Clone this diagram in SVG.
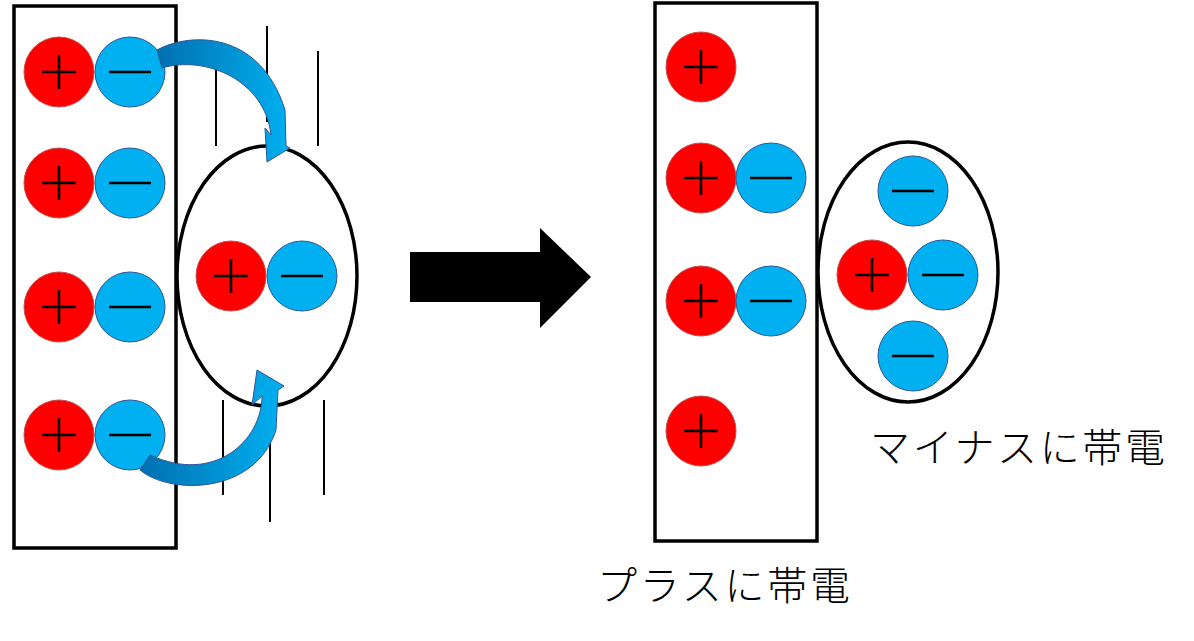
<svg xmlns="http://www.w3.org/2000/svg" width="1194" height="641" viewBox="0 0 1194 641">
<defs>
<style>
.p{fill:#ff0000;stroke:#c0504d;stroke-width:1}
.m{fill:#00b0f0;stroke:#2f5597;stroke-width:1}
.s{stroke:#000;stroke-width:2.5;fill:none}
.box{fill:none;stroke:#000;stroke-width:3.5}
.ln{stroke:#000;stroke-width:2}
.t{font-family:"Noto Sans CJK JP","Noto Sans",sans-serif;font-size:40px;font-weight:300;fill:#000}
</style>
<g id="pc"><circle class="p" r="35"/><path class="s" d="M-17 0H17M0-17V17"/></g>
<g id="mc"><circle class="m" r="35"/><path class="s" d="M-21 0H21"/></g>
<linearGradient id="ag" x1="0" y1="0" x2="1" y2="0"><stop offset="0" stop-color="#0070b0"/><stop offset="0.5" stop-color="#0090d0"/><stop offset="1" stop-color="#00b0f0"/></linearGradient>
</defs>
<g id="left-box">
<rect class="box" x="14" y="6" width="162" height="542"/>
<use href="#pc" x="59" y="72"/><use href="#mc" x="130" y="72"/>
<use href="#pc" x="59" y="183"/><use href="#mc" x="130" y="183"/>
<use href="#pc" x="59" y="307"/><use href="#mc" x="130" y="307"/>
<use href="#pc" x="59" y="435"/><use href="#mc" x="130" y="435"/>
</g>
<g id="lines">
<line class="ln" x1="216" y1="54" x2="216" y2="146"/>
<line class="ln" x1="267" y1="26" x2="267" y2="122"/>
<line class="ln" x1="318" y1="51" x2="318" y2="146"/>
<line class="ln" x1="223" y1="400" x2="223" y2="495"/>
<line class="ln" x1="270" y1="436" x2="270" y2="522"/>
<line class="ln" x1="324" y1="400" x2="324" y2="495"/>
</g>
<g id="left-object">
<ellipse class="box" cx="267" cy="276" rx="90" ry="130"/>
<use href="#pc" x="231" y="276"/><use href="#mc" x="302" y="276"/>
</g>
<g id="connectors">
<path fill="url(#ag)" stroke="#2f5597" stroke-width="1" d="M157 50 C190 32 260 30 285 110 L286 146 L290 148 L267 162 L265 128 L271 135 C265 80 205 55 162 68 Z"/>
<path fill="url(#ag)" stroke="#2f5597" stroke-width="1" d="M140 470 C170 495 255 495 276 430 L278 390 L284 386 L257 370 L252 405 L262 396 C262 440 215 485 150 455 Z"/>
<polygon fill="#000" points="410,252 540,252 540,228 591,277 540,328 540,302 410,302"/>
</g>
<g id="right-box">
<rect class="box" x="655" y="3" width="162" height="538"/>
<use href="#pc" x="701" y="67"/>
<use href="#pc" x="701" y="178"/><use href="#mc" x="771" y="178"/>
<use href="#pc" x="701" y="301"/><use href="#mc" x="771" y="301"/>
<use href="#pc" x="701" y="431"/>
<text class="t" x="597" y="600" textLength="253" lengthAdjust="spacing">プラスに帯電</text>
</g>
<g id="right-object">
<ellipse class="box" cx="908" cy="272" rx="90" ry="130"/>
<use href="#mc" x="913" y="191"/>
<use href="#pc" x="872" y="275"/><use href="#mc" x="943" y="275"/>
<use href="#mc" x="913" y="356"/>
<text class="t" x="870" y="462" textLength="295" lengthAdjust="spacing">マイナスに帯電</text>
</g>
</svg>
